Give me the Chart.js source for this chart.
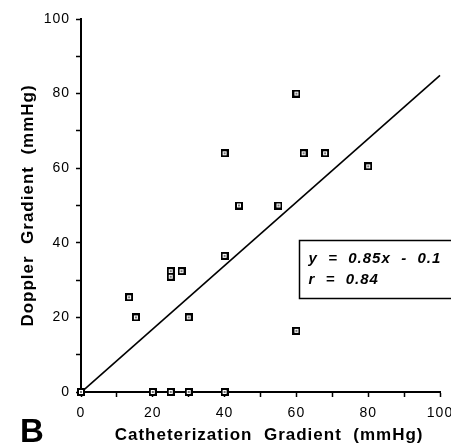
<!DOCTYPE html>
<html>
<head>
<meta charset="utf-8">
<script src="https://cdn.jsdelivr.net/npm/chart.js@4.4.1/dist/chart.umd.min.js"></script>
<style>
  html, body { margin: 0; padding: 0; background: #fff; }
  #wrap { width: 451px; height: 447px; }
</style>
</head>
<body>
<div id="wrap"><canvas id="chart" width="451" height="447"></canvas></div>
<script>
// Panel B - Doppler vs catheterization gradient

const cathGradient    = [0, 13.4, 15.3, 20, 25, 25, 25, 28, 30, 30, 40, 40, 40, 44, 55, 60, 60, 62, 68, 80];
const dopplerGradient = [0, 25.4, 20, 0, 32.4, 30.9, 0, 32.4, 20, 0, 0, 36.5, 64, 50, 50, 80, 16.4, 64, 64, 60.5];

// regression line end points (y = 0.85x - 0.1)
const fitX = [0, 100];
const fitY = [-0.1, 84.9];

const axisMin = 0;
const axisMax = 100;
const minorStep = 10;
const labelStep = 20;

const eqLines = ['y  =  0.85x  -  0.1', 'r  =  0.84'];
const panelLabel = 'B';

const FONT = '"Liberation Sans", Arial, Helvetica, sans-serif';

function makeMarker() {
  const c = document.createElement('canvas');
  c.width = 8; c.height = 8;
  const g = c.getContext('2d');
  g.fillStyle = '#000'; g.fillRect(0, 0, 8, 8);
  g.fillStyle = '#fff'; g.fillRect(2, 2, 4, 4);
  g.fillStyle = '#777'; g.fillRect(3, 3, 2, 2);
  return c;
}

const spacingPlugin = {
  id: 'spacing',
  beforeDraw(chart) { chart.ctx.letterSpacing = '1px'; }
};

const eqBoxPlugin = {
  id: 'eqBox',
  afterDraw(chart, args, opts) {
    const { ctx, scales: { x, y } } = chart;
    const left = Math.round(x.getPixelForValue(opts.xMin)) + 0.5;
    const top = Math.round(y.getPixelForValue(opts.yMax)) + 0.5;
    const bottom = Math.round(y.getPixelForValue(opts.yMin)) + 0.5;
    ctx.save();
    ctx.fillStyle = '#fff';
    ctx.fillRect(left, top, chart.width + 10 - left, bottom - top);
    ctx.lineWidth = 1.5;
    ctx.strokeStyle = '#000';
    ctx.strokeRect(left, top, chart.width + 10 - left, bottom - top);
    ctx.font = 'italic bold 15px ' + FONT;
    ctx.letterSpacing = '1px';
    ctx.fillStyle = '#000';
    ctx.textBaseline = 'alphabetic';
    ctx.textAlign = 'left';
    eqLines.forEach((t, i) => ctx.fillText(t, left + 9, top + 22 + i * 21.5));

    // panel letter
    ctx.font = 'bold 33px ' + FONT;
    ctx.letterSpacing = '0px';
    ctx.fillText(panelLabel, 20, 442);
    ctx.restore();
  }
};

const ctx = document.getElementById('chart').getContext('2d');

new Chart(ctx, {
  type: 'scatter',
  data: {
    datasets: [
      {
        label: 'Patients',
        data: cathGradient.map((v, i) => ({ x: v, y: dopplerGradient[i] })),
        pointStyle: makeMarker(),
        pointRadius: 4,
        clip: false
      },
      {
        label: 'Fit',
        type: 'line',
        data: fitX.map((v, i) => ({ x: v, y: fitY[i] })),
        borderColor: '#000',
        borderWidth: 1.6,
        pointRadius: 0,
        fill: false,
        clip: false
      }
    ]
  },
  options: {
    responsive: false,
    animation: false,
    layout: { padding: { top: 19, right: 11, left: 0, bottom: 0 } },
    plugins: {
      legend: { display: false },
      tooltip: { enabled: false },
      eqBox: { xMin: 60.6, yMax: 40.8, yMin: 25.2 }
    },
    scales: {
      x: {
        type: 'linear',
        min: axisMin,
        max: axisMax,
        afterFit: s => { s.height = 55; s.paddingLeft = 0; s.paddingRight = 0; },
        border: { color: '#000', width: 2 },
        grid: { drawOnChartArea: false, color: '#000', tickLength: 5, tickWidth: 1.5 },
        ticks: {
          stepSize: minorStep,
          padding: 8,
          color: '#000',
          font: { family: FONT, size: 14 },
          maxRotation: 0,
          autoSkip: false,
          callback: v => (v % labelStep === 0 ? v : '')
        },
        title: {
          display: true,
          // leading spaces nudge the centred title to the right, as in the scan
          text: '   Catheterization  Gradient  (mmHg)',
          color: '#000',
          font: { family: FONT, size: 17, weight: 'bold' },
          padding: { top: 0, bottom: 1 }
        }
      },
      y: {
        type: 'linear',
        min: axisMin,
        max: axisMax,
        afterFit: s => { s.width = 81; s.paddingTop = 0; s.paddingBottom = 0; },
        border: { color: '#000', width: 2 },
        grid: { drawOnChartArea: false, color: '#000', tickLength: 5, tickWidth: 1.5 },
        ticks: {
          stepSize: minorStep,
          padding: 6,
          color: '#000',
          font: { family: FONT, size: 14 },
          autoSkip: false,
          callback: v => (v % labelStep === 0 ? v : '')
        },
        title: {
          display: true,
          text: 'Doppler  Gradient  (mmHg)',
          color: '#000',
          font: { family: FONT, size: 17, weight: 'bold' },
          padding: { top: 18, bottom: 0 }
        }
      }
    }
  },
  plugins: [spacingPlugin, eqBoxPlugin]
});
</script>
</body>
</html>
